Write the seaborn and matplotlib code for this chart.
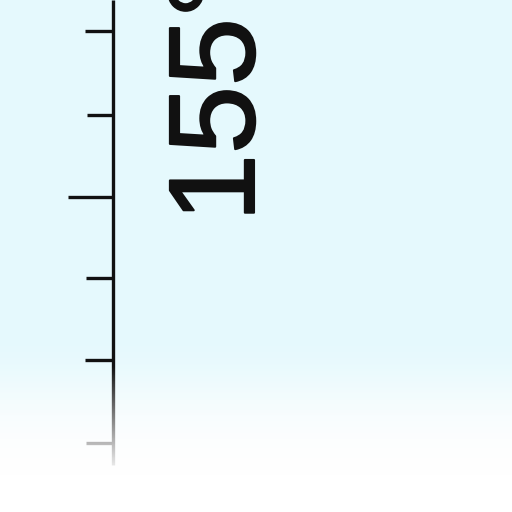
import numpy as np
import matplotlib
matplotlib.use("Agg")
import matplotlib.pyplot as plt
import matplotlib.patheffects as pe
import seaborn as sns

sns.set_theme(style="white")
plt.rcParams["font.family"] = ["Liberation Sans", "DejaVu Sans"]

# scale graduations (pixel rows, top = 0)
tick_rows = [31, 115, 197, 278, 360, 443]
tick_left = [85, 87, 68, 86, 85, 86]
scale_x = 113
scale_span = [0, 465]
label = "155°"

fig = plt.figure(figsize=(5.12, 5.12), dpi=100)
ax = fig.add_axes([0, 0, 1, 1])
ax.set_xlim(0, 512)
ax.set_ylim(512, 0)
ax.axis("off")

# pale cyan background fading into white near the bottom
rows = np.arange(512)
fade = np.clip((rows - 340) / 150, 0, 1)[:, None]
top = np.array([229, 249, 253]) / 255
bg = (top * (1 - fade) + fade)[:, None, :]
ax.imshow(bg, extent=(0, 512, 512, 0), aspect="auto", zorder=0)

ax.vlines(scale_x, *scale_span, color="#111111", lw=2.4, zorder=2)
ax.hlines(tick_rows, tick_left, scale_x, color="#111111", lw=2.4, zorder=2)

# white haze washing out the lower end of the scale
haze = np.ones((512, 1, 4))
haze[:, 0, 3] = np.clip((rows - 365) / 110, 0, 1)
ax.imshow(haze, extent=(0, 512, 512, 0), aspect="auto", zorder=2.5)

ax.text(254, 222, label, rotation=90, rotation_mode="anchor",
        ha="left", va="baseline", fontsize=88, color="#111111", zorder=3,
        path_effects=[pe.withStroke(linewidth=1.5, foreground="#111111")])

fig.savefig("out.png", dpi=100)
